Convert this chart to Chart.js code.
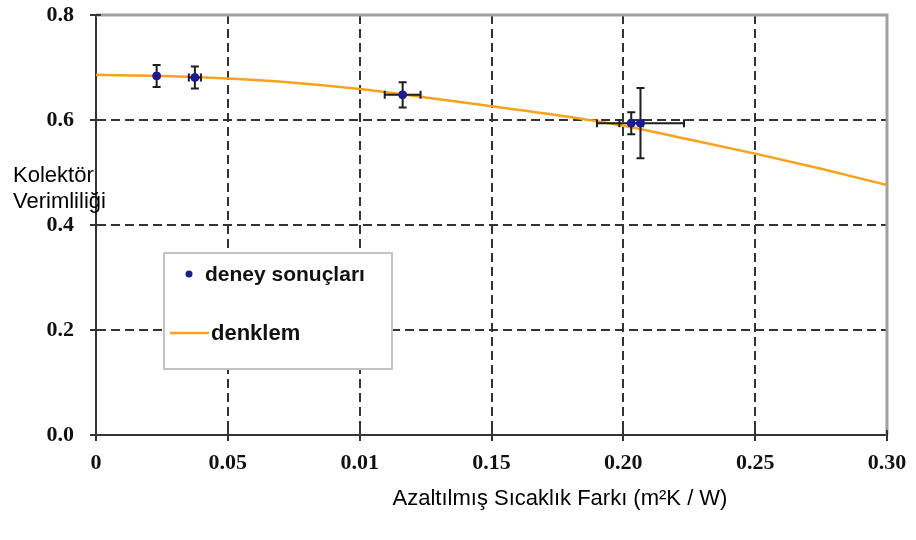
<!DOCTYPE html>
<html>
<head>
<meta charset="utf-8">
<script src="https://cdn.jsdelivr.net/npm/chart.js@4/dist/chart.umd.min.js"></script>
<style>
html,body{margin:0;padding:0;background:#fff;}
#wrap{width:916px;height:540px;position:relative;}
</style>
</head>
<body>
<div id="wrap"><canvas id="c" width="916" height="540"></canvas></div>
<script>
// ---- data ----
const expX = [0.023, 0.0375, 0.1163, 0.203, 0.2065];
const expY = [0.684, 0.681, 0.648, 0.594, 0.594];
const expXErr = [0, 0.0023, 0.0068, 0.0045, 0.0165];
const expYErr = [0.021, 0.021, 0.024, 0.021, 0.067];

const curveX = [0, 0.025, 0.05, 0.075, 0.1, 0.125, 0.15, 0.175, 0.2, 0.225, 0.25, 0.275, 0.3];
const curveY = [0.686, 0.684, 0.679, 0.671, 0.659, 0.643, 0.626, 0.609, 0.589, 0.563, 0.536, 0.507, 0.476];

const xTickValues = [0, 0.05, 0.10, 0.15, 0.20, 0.25, 0.30];
const xTickLabels = ['0', '0.05', '0.01', '0.15', '0.20', '0.25', '0.30'];
const yTickValues = [0, 0.2, 0.4, 0.6, 0.8];
const yTickLabels = ['0.0', '0.2', '0.4', '0.6', '0.8'];

const seriesNames = ['deney sonuçları', 'denklem'];
const yTitleLines = ['Kolektör', 'Verimliliği'];
const xTitle = 'Azaltılmış Sıcaklık Farkı (m²K / W)';

// ---- style ----
const PT_COLOR = '#1c1c8e';
const LINE_COLOR = '#f7a21b';
const ERR_COLOR = '#1e1e1e';
const AXIS_COLOR = '#333333';
const TICK_FONT = {family: "'Liberation Serif','Times New Roman',serif", size: 22, weight: 'bold'};
const SANS = "'Liberation Sans',Arial,sans-serif";

const near = (a, b) => Math.abs(a - b) < 1e-9;

const bgPlugin = {
  id: 'bg',
  beforeDraw(chart) {
    const ctx = chart.ctx;
    ctx.save();
    ctx.fillStyle = '#fff';
    ctx.fillRect(0, 0, chart.width, chart.height);
    ctx.restore();
  }
};

const framePlugin = {
  id: 'frame',
  beforeDatasetsDraw(chart) {
    const {ctx, chartArea: a, scales} = chart;
    ctx.save();
    ctx.strokeStyle = '#a0a0a0';
    ctx.lineWidth = 3;
    ctx.beginPath();
    ctx.moveTo(a.left, a.top);
    ctx.lineTo(a.right, a.top);
    ctx.lineTo(a.right, a.bottom);
    ctx.stroke();
    ctx.strokeStyle = AXIS_COLOR;
    ctx.lineWidth = 2;
    ctx.beginPath();
    scales.x.ticks.forEach(t => {
      const px = Math.round(scales.x.getPixelForValue(t.value));
      ctx.moveTo(px, a.bottom - 5);
      ctx.lineTo(px, a.bottom + 6);
    });
    scales.y.ticks.forEach(t => {
      const py = Math.round(scales.y.getPixelForValue(t.value));
      ctx.moveTo(a.left - 6, py);
      ctx.lineTo(a.left + 5, py);
    });
    ctx.stroke();
    ctx.fillStyle = '#000';
    ctx.font = '22px ' + SANS;
    ctx.textAlign = 'left';
    ctx.textBaseline = 'alphabetic';
    ctx.fillText(yTitleLines[0], 13, 182);
    ctx.fillText(yTitleLines[1], 13, 208);
    ctx.textAlign = 'center';
    ctx.fillText(xTitle, 560, 505);
    ctx.restore();
  }
};

const errorBarPlugin = {
  id: 'errbars',
  beforeDatasetDraw(chart, args) {
    if (args.index !== 0) return;
    const {ctx, scales: {x, y}} = chart;
    ctx.save();
    ctx.strokeStyle = ERR_COLOR;
    ctx.lineWidth = 2;
    const cap = 4;
    ctx.beginPath();
    for (let i = 0; i < expX.length; i++) {
      const px = x.getPixelForValue(expX[i]);
      const py = y.getPixelForValue(expY[i]);
      if (expYErr[i] > 0) {
        const y1 = y.getPixelForValue(expY[i] + expYErr[i]);
        const y2 = y.getPixelForValue(expY[i] - expYErr[i]);
        ctx.moveTo(px, y1); ctx.lineTo(px, y2);
        ctx.moveTo(px - cap, y1); ctx.lineTo(px + cap, y1);
        ctx.moveTo(px - cap, y2); ctx.lineTo(px + cap, y2);
      }
      if (expXErr[i] > 0) {
        const x1 = x.getPixelForValue(expX[i] - expXErr[i]);
        const x2 = x.getPixelForValue(expX[i] + expXErr[i]);
        ctx.moveTo(x1, py); ctx.lineTo(x2, py);
        ctx.moveTo(x1, py - cap); ctx.lineTo(x1, py + cap);
        ctx.moveTo(x2, py - cap); ctx.lineTo(x2, py + cap);
      }
    }
    ctx.stroke();
    ctx.restore();
  }
};

const legendPlugin = {
  id: 'customLegend',
  afterDraw(chart) {
    const ctx = chart.ctx;
    ctx.save();
    ctx.fillStyle = '#fff';
    ctx.fillRect(164, 253, 228, 116);
    ctx.strokeStyle = '#c4c4c4';
    ctx.lineWidth = 2;
    ctx.strokeRect(164, 253, 228, 116);
    ctx.fillStyle = PT_COLOR;
    ctx.beginPath();
    ctx.arc(189, 274, 3.5, 0, Math.PI * 2);
    ctx.fill();
    ctx.fillStyle = '#111';
    ctx.font = 'bold 21px ' + SANS;
    ctx.textAlign = 'left';
    ctx.textBaseline = 'middle';
    ctx.fillText(seriesNames[0], 205, 275);
    ctx.strokeStyle = LINE_COLOR;
    ctx.lineWidth = 2.5;
    ctx.beginPath();
    ctx.moveTo(170, 333);
    ctx.lineTo(209, 333);
    ctx.stroke();
    ctx.font = 'bold 22px ' + SANS;
    ctx.fillText(seriesNames[1], 211, 334);
    ctx.restore();
  }
};

const gridColor = (edgeVals) => (c) => {
  const v = c.tick ? c.tick.value : null;
  if (v === null) return AXIS_COLOR;
  for (const e of edgeVals) if (near(v, e)) return 'rgba(0,0,0,0)';
  return AXIS_COLOR;
};

new Chart(document.getElementById('c'), {
  type: 'scatter',
  data: {
    datasets: [
      {
        label: seriesNames[0],
        data: expX.map((v, i) => ({x: v, y: expY[i]})),
        pointRadius: 4,
        pointBackgroundColor: PT_COLOR,
        pointBorderColor: PT_COLOR,
        pointBorderWidth: 1,
        showLine: false
      },
      {
        label: seriesNames[1],
        type: 'line',
        data: curveX.map((v, i) => ({x: v, y: curveY[i]})),
        borderColor: LINE_COLOR,
        borderWidth: 2.5,
        pointRadius: 0,
        fill: false,
        cubicInterpolationMode: 'monotone'
      }
    ]
  },
  options: {
    responsive: false,
    animation: false,
    devicePixelRatio: 1,
    layout: {padding: {left: 0, top: 15, right: 29, bottom: 0}},
    plugins: {legend: {display: false}, tooltip: {enabled: false}},
    scales: {
      x: {
        type: 'linear',
        min: 0, max: 0.3,
        afterBuildTicks: s => { s.ticks = xTickValues.map(v => ({value: v})); },
        afterFit: s => { s.height = 105; s.paddingLeft = 0; s.paddingRight = 0; },
        ticks: {
          callback: (v, i) => xTickLabels[i],
          font: TICK_FONT,
          color: '#111',
          padding: 15,
          maxRotation: 0,
          autoSkip: false
        },
        grid: {color: gridColor([0, 0.3]), lineWidth: 2, drawTicks: false},
        border: {display: true, color: AXIS_COLOR, width: 2, dash: [9, 5]}
      },
      y: {
        type: 'linear',
        min: 0, max: 0.8,
        afterBuildTicks: s => { s.ticks = yTickValues.map(v => ({value: v})); },
        afterFit: s => { s.width = 96; s.paddingTop = 0; s.paddingBottom = 0; },
        ticks: {
          callback: (v, i) => yTickLabels[i],
          font: TICK_FONT,
          color: '#111',
          padding: 22,
          autoSkip: false
        },
        grid: {color: gridColor([0, 0.8]), lineWidth: 2, drawTicks: false},
        border: {display: true, color: AXIS_COLOR, width: 2, dash: [9, 5]}
      }
    }
  },
  plugins: [bgPlugin, framePlugin, errorBarPlugin, legendPlugin]
});
</script>
</body>
</html>
